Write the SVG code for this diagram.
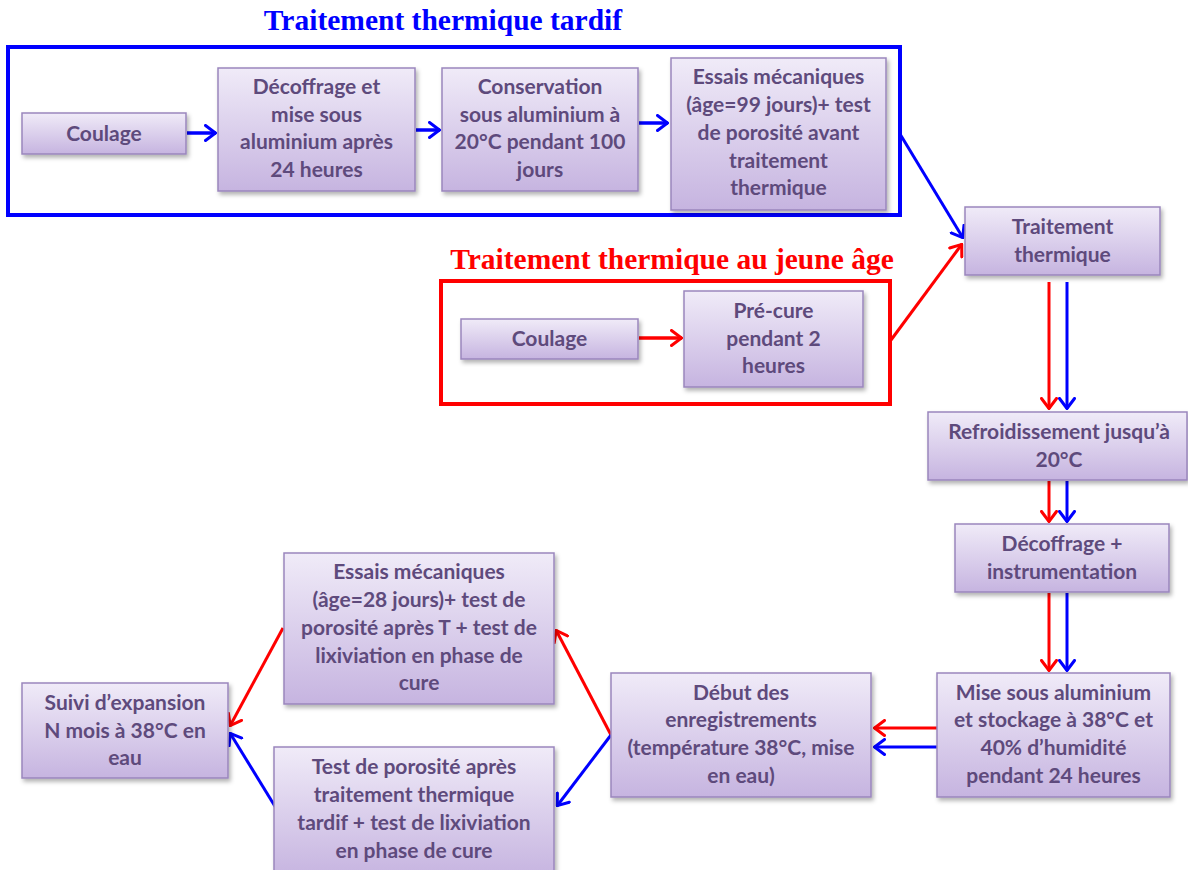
<svg xmlns="http://www.w3.org/2000/svg" width="1188" height="870" viewBox="0 0 1188 870">
<style>
.box{fill:url(#g);stroke:#9a86bd;stroke-width:1.5;filter:url(#sh)}
.t{font-family:Lato,"Liberation Sans",sans-serif;font-weight:bold;font-size:21px;fill:#5e4a7c;text-anchor:middle}
.title{font-family:"Liberation Serif","Times New Roman",serif;font-weight:bold;font-size:29.5px;text-anchor:middle}
.b{stroke:#0000ff;fill:none}
.r{stroke:#ff0000;fill:none}
</style>
<defs>
<linearGradient id="g" x1="0" y1="0" x2="0" y2="1">
<stop offset="0" stop-color="#f0ebf8"/>
<stop offset="1" stop-color="#c6b4e0"/>
</linearGradient>
<filter id="sh" x="-10%" y="-10%" width="130%" height="130%">
<feDropShadow dx="2" dy="3" stdDeviation="2" flood-color="#000" flood-opacity="0.3"/>
</filter>
<marker id="ab" viewBox="0 0 13 18" refX="12" refY="9" markerWidth="13" markerHeight="18" markerUnits="userSpaceOnUse" orient="auto">
<path d="M1.5,1.5 L11.5,9 L1.5,16.5" fill="none" stroke="#0000ff" stroke-width="3" stroke-linecap="round" stroke-linejoin="miter"/>
</marker>
<marker id="ar" viewBox="0 0 13 18" refX="12" refY="9" markerWidth="13" markerHeight="18" markerUnits="userSpaceOnUse" orient="auto">
<path d="M1.5,1.5 L11.5,9 L1.5,16.5" fill="none" stroke="#ff0000" stroke-width="3" stroke-linecap="round" stroke-linejoin="miter"/>
</marker>
</defs>
<rect width="1188" height="870" fill="#ffffff"/>

<g id="frames">
<rect x="8" y="47" width="892" height="168" fill="none" stroke="#0000ff" stroke-width="4"/>
<text class="title" x="443" y="30" fill="#0000ff">Traitement thermique tardif</text>
<rect x="441" y="281" width="449" height="123" fill="none" stroke="#ff0000" stroke-width="4"/>
<text class="title" x="672" y="269" fill="#ff0000">Traitement thermique au jeune âge</text>
</g>

<g id="connectors">
<line class="b" x1="187" y1="133" x2="216" y2="133" stroke-width="3.5" marker-end="url(#ab)"/>
<line class="b" x1="416" y1="130" x2="440" y2="130" stroke-width="3.5" marker-end="url(#ab)"/>
<line class="b" x1="639" y1="123" x2="668" y2="123" stroke-width="3.5" marker-end="url(#ab)"/>
<line class="b" x1="900" y1="134" x2="963" y2="238" stroke-width="3" marker-end="url(#ab)"/>
<line class="r" x1="891" y1="340" x2="962" y2="244" stroke-width="3" marker-end="url(#ar)"/>
<line class="r" x1="639" y1="338" x2="682" y2="338" stroke-width="3.5" marker-end="url(#ar)"/>
<line class="r" x1="1049" y1="282" x2="1049" y2="409" stroke-width="3" marker-end="url(#ar)"/>
<line class="b" x1="1067" y1="282" x2="1067" y2="409" stroke-width="3" marker-end="url(#ab)"/>
<line class="r" x1="1049" y1="481" x2="1049" y2="522" stroke-width="3" marker-end="url(#ar)"/>
<line class="b" x1="1067" y1="481" x2="1067" y2="522" stroke-width="3" marker-end="url(#ab)"/>
<line class="r" x1="1049" y1="593" x2="1049" y2="671" stroke-width="3" marker-end="url(#ar)"/>
<line class="b" x1="1067" y1="593" x2="1067" y2="671" stroke-width="3" marker-end="url(#ab)"/>
<line class="r" x1="937" y1="728" x2="874" y2="728" stroke-width="3" marker-end="url(#ar)"/>
<line class="b" x1="937" y1="747" x2="874" y2="747" stroke-width="3" marker-end="url(#ab)"/>
<line class="r" x1="611" y1="735" x2="556" y2="630" stroke-width="3" marker-end="url(#ar)"/>
<line class="b" x1="611" y1="735" x2="557" y2="806" stroke-width="3" marker-end="url(#ab)"/>
<line class="r" x1="283" y1="628" x2="230" y2="726" stroke-width="3" marker-end="url(#ar)"/>
<line class="b" x1="276" y1="808" x2="230" y2="733" stroke-width="3" marker-end="url(#ab)"/>
</g>

<g id="n-coulage1">
<rect class="box" x="22" y="113" width="164" height="41"/>
<text class="t" x="104" y="141">Coulage</text>
</g>
<g id="n-decoffrage1">
<rect class="box" x="218" y="68" width="197" height="123"/>
<text class="t" x="316.5"><tspan x="316.5" y="94">Décoffrage et</tspan><tspan x="316.5" y="122">mise sous</tspan><tspan x="316.5" y="149">aluminium après</tspan><tspan x="316.5" y="177">24 heures</tspan></text>
</g>
<g id="n-conservation">
<rect class="box" x="442" y="68" width="196" height="123"/>
<text class="t" x="540"><tspan x="540" y="94">Conservation</tspan><tspan x="540" y="122">sous aluminium à</tspan><tspan x="540" y="149">20°C pendant 100</tspan><tspan x="540" y="177">jours</tspan></text>
</g>
<g id="n-essais99">
<rect class="box" x="671" y="58" width="215" height="152"/>
<text class="t" x="778.5"><tspan x="778.5" y="84">Essais mécaniques</tspan><tspan x="778.5" y="112">(âge=99 jours)+ test</tspan><tspan x="778.5" y="140">de porosité avant</tspan><tspan x="778.5" y="168">traitement</tspan><tspan x="778.5" y="195">thermique</tspan></text>
</g>
<g id="n-traitement">
<rect class="box" x="965" y="207" width="195" height="68"/>
<text class="t" x="1062.5"><tspan x="1062.5" y="234">Traitement</tspan><tspan x="1062.5" y="262">thermique</tspan></text>
</g>
<g id="n-coulage2">
<rect class="box" x="461" y="319" width="177" height="40"/>
<text class="t" x="549.5" y="346">Coulage</text>
</g>
<g id="n-precure">
<rect class="box" x="684" y="291" width="179" height="96"/>
<text class="t" x="773.5"><tspan x="773.5" y="318">Pré-cure</tspan><tspan x="773.5" y="346">pendant 2</tspan><tspan x="773.5" y="373">heures</tspan></text>
</g>
<g id="n-refroidissement">
<rect class="box" x="928" y="412" width="259" height="68"/>
<text class="t" x="1059"><tspan x="1059" y="439">Refroidissement jusqu’à</tspan><tspan x="1059" y="467">20°C</tspan></text>
</g>
<g id="n-decoffrage2">
<rect class="box" x="955" y="524" width="214" height="68"/>
<text class="t" x="1062"><tspan x="1062" y="551">Décoffrage +</tspan><tspan x="1062" y="579">instrumentation</tspan></text>
</g>
<g id="n-mise">
<rect class="box" x="937" y="673" width="233" height="124"/>
<text class="t" x="1053.5"><tspan x="1053.5" y="700">Mise sous aluminium</tspan><tspan x="1053.5" y="727">et stockage à 38°C et</tspan><tspan x="1053.5" y="755">40% d’humidité</tspan><tspan x="1053.5" y="783">pendant 24 heures</tspan></text>
</g>
<g id="n-debut">
<rect class="box" x="611" y="673" width="260" height="124"/>
<text class="t" x="741"><tspan x="741" y="700">Début des</tspan><tspan x="741" y="727">enregistrements</tspan><tspan x="741" y="755">(température 38°C, mise</tspan><tspan x="741" y="783">en eau)</tspan></text>
</g>
<g id="n-essais28">
<rect class="box" x="284" y="553" width="270" height="151"/>
<text class="t" x="419"><tspan x="419" y="579">Essais mécaniques</tspan><tspan x="419" y="607">(âge=28 jours)+ test de</tspan><tspan x="419" y="635">porosité après T + test de</tspan><tspan x="419" y="663">lixiviation en phase de</tspan><tspan x="419" y="690">cure</tspan></text>
</g>
<g id="n-test">
<rect class="box" x="274" y="747" width="280" height="130"/>
<text class="t" x="414"><tspan x="414" y="774">Test de porosité après</tspan><tspan x="414" y="802">traitement thermique</tspan><tspan x="414" y="830">tardif + test de lixiviation</tspan><tspan x="414" y="858">en phase de cure</tspan></text>
</g>
<g id="n-suivi">
<rect class="box" x="22" y="683" width="206" height="95"/>
<text class="t" x="125"><tspan x="125" y="710">Suivi d’expansion</tspan><tspan x="125" y="738">N mois à 38°C en</tspan><tspan x="125" y="765">eau</tspan></text>
</g>
</svg>
